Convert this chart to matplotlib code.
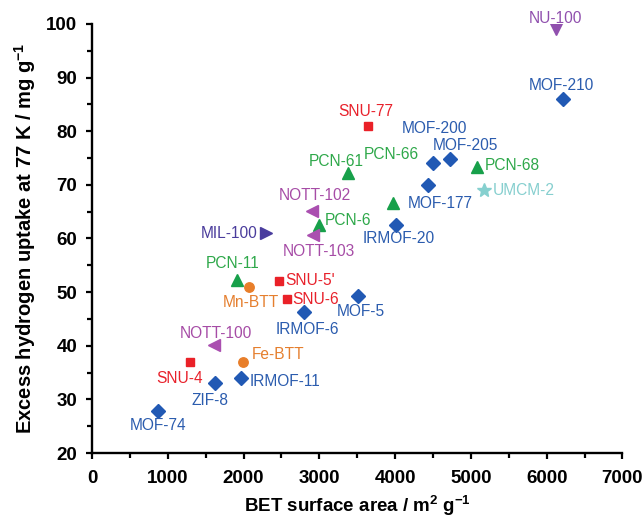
import matplotlib
matplotlib.use("Agg")
import matplotlib.pyplot as plt

plt.rcParams['font.family'] = ['Liberation Sans', 'DejaVu Sans']
plt.rcParams['mathtext.default'] = 'regular'

# materials, BET surface area (m2/g), excess H2 uptake at 77 K (mg/g), family
names = ['NU-100', 'MOF-210', 'SNU-77', 'MOF-200', 'MOF-205', 'PCN-61', 'PCN-66',
         'PCN-68', 'UMCM-2', 'MOF-177', 'IRMOF-20', 'NOTT-102', 'PCN-6', 'NOTT-103',
         'MIL-100', 'PCN-11', 'Mn-BTT', "SNU-5'", 'SNU-6', 'IRMOF-6', 'MOF-5',
         'NOTT-100', 'Fe-BTT', 'SNU-4', 'IRMOF-11', 'ZIF-8', 'MOF-74']
bet = [6120, 6215, 3645, 4505, 4725, 3380, 3975,
       5075, 5175, 4440, 4010, 2900, 3000, 2920,
       2295, 1915, 2075, 2465, 2570, 2800, 3515,
       1615, 1995, 1295, 1965, 1625, 865]
h2 = [99.0, 86.0, 81.0, 74.0, 74.8, 72.2, 66.7,
      73.3, 69.0, 70.0, 62.5, 65.2, 62.6, 60.7,
      61.0, 52.3, 50.9, 52.1, 48.7, 46.3, 49.3,
      40.1, 37.0, 37.0, 34.0, 33.0, 27.9]
family = ['NU', 'MOF', 'SNU', 'MOF', 'MOF', 'PCN', 'PCN',
          'PCN', 'UMCM', 'MOF', 'MOF', 'NOTT', 'PCN', 'NOTT',
          'MIL', 'PCN', 'BTT', 'SNU', 'SNU', 'MOF', 'MOF',
          'NOTT', 'BTT', 'SNU', 'MOF', 'MOF', 'MOF']

styles = {
    'MOF': dict(marker='D', color='#2159b4', ms=6.8),
    'SNU': dict(marker='s', color='#ea2128', ms=5.6),
    'PCN': dict(marker='^', color='#17a04a', ms=8.5),
    'NOTT': dict(marker='<', color='#aa4fb0', ms=8.5),
    'NU': dict(marker='v', color='#9050ae', ms=8.0),
    'MIL': dict(marker='>', color='#4a3d9e', ms=8.5),
    'BTT': dict(marker='o', color='#e87e2a', ms=6.8),
    'UMCM': dict(marker='*', color='#86d0cf', ms=10),
}
label_colors = {'MOF': '#2b5cae', 'SNU': '#e8212b', 'PCN': '#2ea84a',
                'NOTT': '#a64ca6', 'NU': '#9050ae', 'MIL': '#4a3c9c',
                'BTT': '#e57f2e', 'UMCM': '#86cfcf'}

# label placement: offset in points, horizontal alignment
label_pos = {
    'NU-100': (0, 8, 'center'), 'MOF-210': (-1, 9.5, 'center'),
    'SNU-77': (-2, 10, 'center'), 'MOF-200': (1, 25, 'center'),
    'MOF-205': (11, 9.5, 'center'), 'PCN-61': (-8.5, 8, 'center'),
    'PCN-66': (-1.5, 34.5, 'center'), 'PCN-68': (6, 1.5, 'left'),
    'UMCM-2': (6.5, -0.5, 'left'), 'MOF-177': (8.5, -13.7, 'center'),
    'IRMOF-20': (2, -9.4, 'center'), 'NOTT-102': (2, 10.5, 'center'),
    'PCN-6': (4, 3, 'left'), 'NOTT-103': (4, -12, 'center'),
    'MIL-100': (-6, 0, 'right'), 'PCN-11': (-3, 12, 'center'),
    'Mn-BTT': (1, -11, 'center'), "SNU-5'": (5, 0.5, 'left'),
    'SNU-6': (4, 0, 'left'), 'IRMOF-6': (2, -12.7, 'center'),
    'MOF-5': (2, -11, 'center'), 'NOTT-100': (1, 8.5, 'center'),
    'Fe-BTT': (6, 5, 'left'), 'SNU-4': (-7.5, -12, 'center'),
    'IRMOF-11': (6, -2.5, 'left'), 'ZIF-8': (-4, -12.5, 'center'),
    'MOF-74': (0.5, -11, 'center'),
}

fig = plt.figure(figsize=(6.43, 5.19), dpi=100)
ax = fig.add_axes([0.143, 0.127, 0.825, 0.827])

for n, x, y, f in zip(names, bet, h2, family):
    st = styles[f]
    ax.plot(x, y, linestyle='none', marker=st['marker'], markersize=st['ms'],
            color=st['color'], markeredgecolor=st['color'], zorder=3)
    dx, dy, ha = label_pos[n]
    ax.annotate(n, (x, y), xytext=(dx, dy), textcoords='offset points',
                ha=ha, va='center', fontsize=11.2, color=label_colors[f])

ax.set_xlim(0, 7000)
ax.set_ylim(20, 100)
ax.set_xticks(range(0, 7001, 1000))
ax.set_xticks(range(500, 7000, 1000), minor=True)
ax.set_yticks(range(20, 101, 10))
ax.set_yticks(range(25, 100, 10), minor=True)

for s in ['top', 'right']:
    ax.spines[s].set_visible(False)
for s in ['left', 'bottom']:
    ax.spines[s].set_linewidth(1.7)

ax.tick_params(which='major', direction='out', length=4, width=1.6,
               labelsize=13.5)
ax.tick_params(axis='x', which='major', pad=8)
ax.tick_params(axis='y', which='major', pad=6.5)
ax.tick_params(which='minor', direction='out', length=3.5, width=1.6)
for lbl in ax.get_xticklabels() + ax.get_yticklabels():
    lbl.set_fontweight('bold')

ax.set_xlabel('BET surface area / m$^{2}$ g$^{-1}$', fontsize=13.5,
              fontweight='bold', labelpad=5)
ax.set_ylabel('Excess hydrogen uptake at 77 K / mg g$^{-1}$', fontsize=14.5,
              fontweight='bold', labelpad=6)

fig.savefig('out.png', dpi=100)
